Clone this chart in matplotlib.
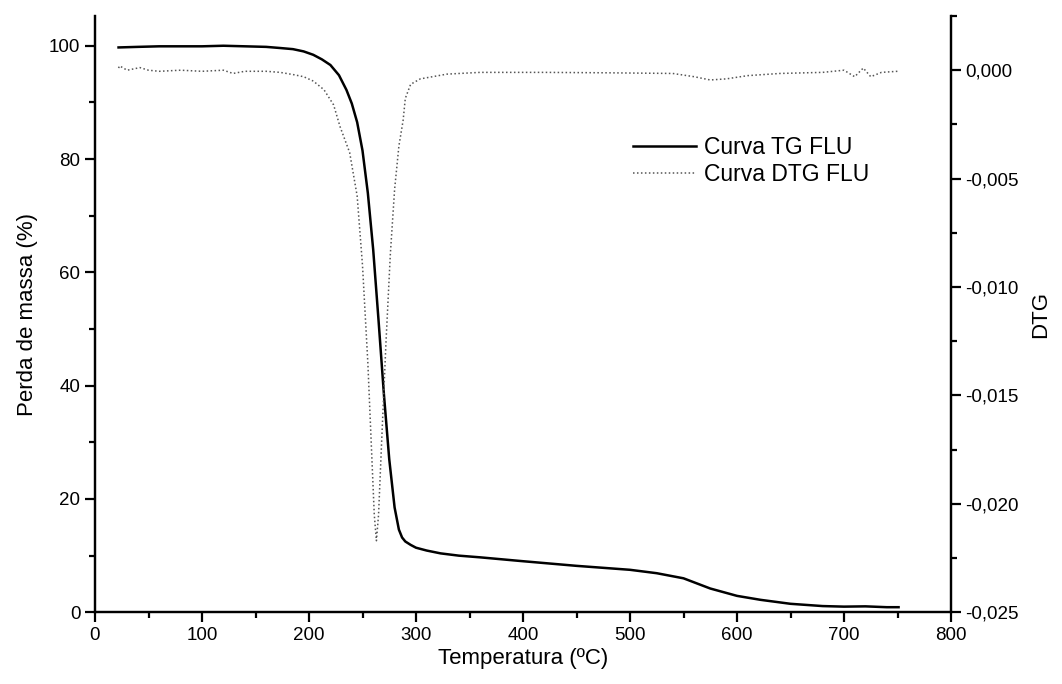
import matplotlib
matplotlib.use("Agg")
import matplotlib.pyplot as plt
from matplotlib.ticker import MultipleLocator, FuncFormatter

plt.rcParams['font.family'] = ['Liberation Sans', 'DejaVu Sans']

# TG curve (mass %) vs temperature
temp_tg = [22, 40, 60, 80, 100, 120, 140, 160, 173, 185, 195, 204, 212, 220, 228, 235,
           240, 245, 250, 255, 260, 265, 270, 275, 280, 284, 287, 290, 295, 300, 310,
           323, 340, 360, 398, 450, 500, 525, 550, 575, 600, 622, 650, 680, 700, 720,
           740, 751]
tg = [99.7, 99.8, 99.9, 99.9, 99.9, 100.0, 99.9, 99.8, 99.6, 99.4, 99.0, 98.4, 97.6,
      96.6, 94.8, 92.2, 89.8, 86.5, 81.5, 74, 64, 51.5, 38.5, 27, 18.5, 14.6, 13.2,
      12.5, 11.9, 11.4, 10.9, 10.4, 10.0, 9.7, 9.05, 8.2, 7.5, 6.9, 6.0, 4.2, 2.9,
      2.2, 1.5, 1.1, 1.0, 1.05, 0.9, 0.9]

# DTG curve vs temperature
temp_dtg = [22, 23, 30, 42, 50, 60, 80, 100, 120, 129, 140, 160, 173, 185, 195, 204,
            214, 223, 229, 238, 245, 250, 255, 258, 261, 263, 265, 268, 272, 276, 280,
            284, 288, 290, 295, 304, 329, 360, 420, 480, 540, 560, 575, 590, 610, 640,
            680, 700, 710, 718, 725, 735, 750]
dtg = [0.0001, 0.0002, 0.0, 0.00012, 0.0, -0.00005, 0.0, -0.00005, 0.0, -0.00015,
       -0.00005, -0.00005, -0.0001, -0.0002, -0.0003, -0.0005, -0.0009, -0.0016,
       -0.0026, -0.0038, -0.0058, -0.009, -0.0135, -0.017, -0.0205, -0.0217, -0.0205,
       -0.017, -0.0125, -0.0085, -0.0055, -0.0035, -0.0023, -0.0013, -0.00065, -0.0004,
       -0.00018, -0.0001, -0.0001, -0.00012, -0.00015, -0.0003, -0.00045, -0.0004,
       -0.00025, -0.00015, -0.0001, 0.0, -0.0003, 0.0001, -0.0003, -0.0001, -0.00005]

fig = plt.figure(figsize=(10.62, 6.84), dpi=100)
ax = fig.add_axes([95 / 1062, 1 - 612.3 / 684, (951 - 95) / 1062, (612.3 - 16) / 684])
ax2 = ax.twinx()

l1, = ax.plot(temp_tg, tg, color='black', lw=1.8, label='Curva TG FLU')
l2, = ax2.plot(temp_dtg, dtg, color='#555555', lw=1.1, linestyle=(0, (1, 1.6)),
               label='Curva DTG FLU')

ax.set_xlim(0, 800)
ax.set_ylim(0, 105.25)
ax2.set_ylim(-0.025, 0.0025)

ax.xaxis.set_major_locator(MultipleLocator(100))
ax.xaxis.set_minor_locator(MultipleLocator(50))
ax.yaxis.set_major_locator(MultipleLocator(20))
ax.yaxis.set_minor_locator(MultipleLocator(10))
ax2.yaxis.set_major_locator(MultipleLocator(0.005))
ax2.yaxis.set_minor_locator(MultipleLocator(0.0025))
ax2.yaxis.set_major_formatter(FuncFormatter(lambda v, p: f"{v:.3f}".replace('.', ',').replace('-0,000', '0,000')))

for a in (ax, ax2):
    a.spines['top'].set_visible(False)
    for s in ('left', 'right', 'bottom'):
        a.spines[s].set_linewidth(1.6)
    a.tick_params(which='major', direction='out', length=7, width=1.6, labelsize=13.5)
    a.tick_params(which='minor', direction='out', length=4, width=1.6)

ax.set_xlabel('Temperatura (ºC)', fontsize=16, labelpad=3)
ax.set_ylabel('Perda de massa (%)', fontsize=16, labelpad=8)
ax2.set_ylabel('DTG', fontsize=16, labelpad=8)

fig.legend(handles=[l1, l2], loc='center left', bbox_to_anchor=(633 / 1062, 1 - 161 / 684),
           frameon=False, fontsize=16.5, handlelength=2.75, handletextpad=0.35,
           labelspacing=0.2, borderpad=0, borderaxespad=0)

fig.savefig('out.png', dpi=100)
